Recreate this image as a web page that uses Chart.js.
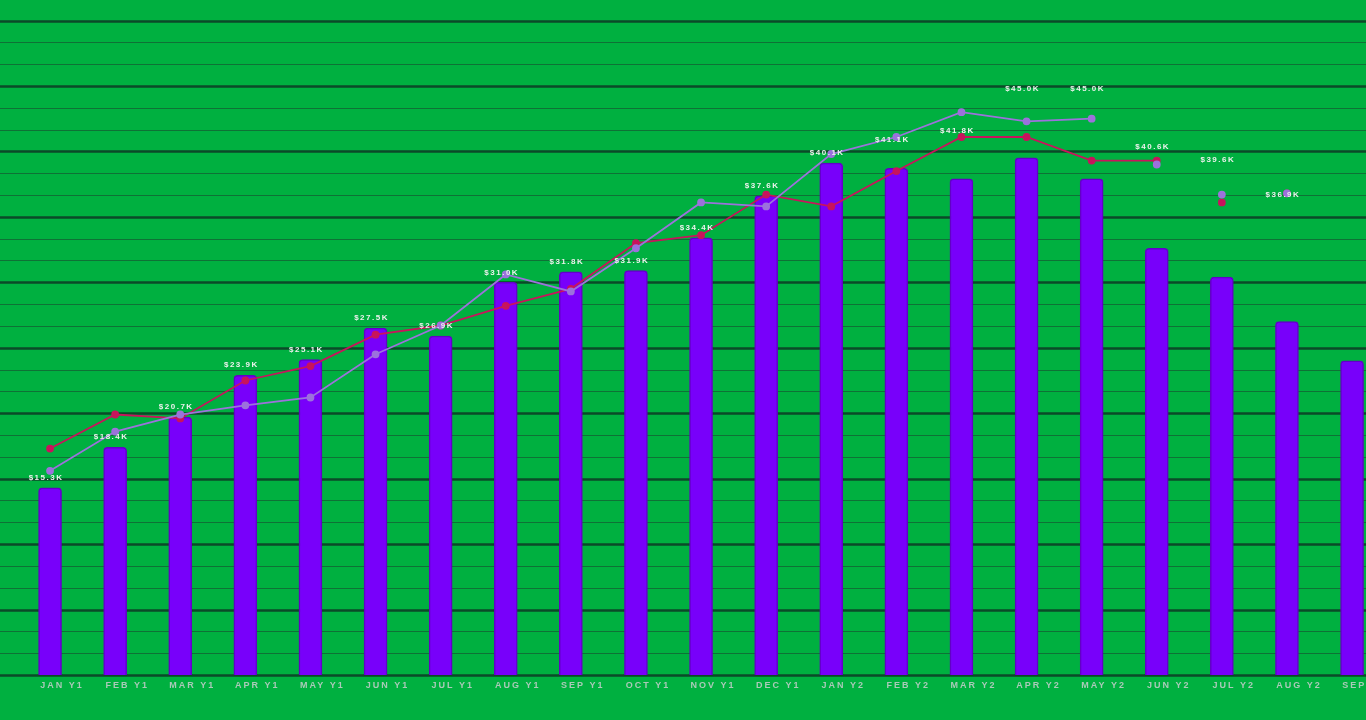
<!DOCTYPE html>
<html>
<head>
<meta charset="utf-8">
<title>Monthly revenue</title>
<script src="https://cdn.jsdelivr.net/npm/chart.js@4.4.1/dist/chart.umd.min.js"></script>
<style>
  html, body { margin: 0; padding: 0; background: #00b040; overflow: hidden; }
  #wrap { position: relative; width: 1400px; height: 720px; }
</style>
</head>
<body>
<div id="wrap"><canvas id="revenue-chart"></canvas></div>
<script>
// categories
const months = ['JAN Y1', 'FEB Y1', 'MAR Y1', 'APR Y1', 'MAY Y1', 'JUN Y1', 'JUL Y1', 'AUG Y1', 'SEP Y1',
    'OCT Y1', 'NOV Y1', 'DEC Y1', 'JAN Y2', 'FEB Y2', 'MAR Y2', 'APR Y2', 'MAY Y2', 'JUN Y2', 'JUL Y2',
    'AUG Y2', 'SEP Y2'];

// bar heights as drawn (thousands)
const barValues = [15.3, 18.4, 20.7, 23.9, 25.1, 27.5, 26.9, 31.0, 31.8, 31.9, 34.4, 37.6, 40.1,
    39.7, 38.9, 40.5, 38.9, 33.6, 31.4, 28.0, 25.0];

// value labels shown above the bars (thousands)
const labelValues = [15.3, 18.4, 20.7, 23.9, 25.1, 27.5, 26.9, 31.0, 31.8, 31.9, 34.4, 37.6, 40.1,
    41.1, 41.8, 45.0, 45.0, 40.6, 39.6, 36.9, null];

// the two line series (thousands)
const redLine = [18.3, 20.9, 20.6, 23.5, 24.6, 27.0, 27.7, 29.2, 30.5, 34.0, 34.6, 37.7, 36.8,
    39.5, 42.1, 42.1, 40.3, 40.3, 37.1, 37.8, null];
const lavenderLine = [16.6, 19.6, 20.9, 21.6, 22.2, 25.5, 27.7, 31.6, 30.3, 33.6, 37.1, 36.8, 40.8,
    42.1, 44.0, 43.3, 43.5, 40.0, 37.7, 37.8, null];

const redColor = '#c8145c';
const lavenderColor = '#9c72dc';

// horizontal rules run across the whole page, not just the plot area
const wideGrid = {
    id: 'wideGrid',
    beforeDatasetsDraw(chart) {
        const { ctx, scales, width } = chart;
        ctx.save();
        scales.y.ticks.forEach((t, i) => {
            const y = Math.round(scales.y.getPixelForValue(t.value)) + 0.5;
            const major = i % 3 === 0;
            ctx.strokeStyle = major ? '#0b4a28' : '#0e7236';
            ctx.lineWidth = major ? 2.5 : 1.2;
            ctx.beginPath();
            ctx.moveTo(0, y);
            ctx.lineTo(width, y);
            ctx.stroke();
        });
        ctx.restore();
    }
};

// draw the $xx.xK labels over the chart
const valueLabels = {
    id: 'valueLabels',
    afterDatasetsDraw(chart) {
        const { ctx, scales } = chart;
        ctx.save();
        ctx.letterSpacing = '1.5px';
        ctx.font = 'bold 8px "Liberation Sans", Arial, sans-serif';
        ctx.fillStyle = '#eef2ee';
        ctx.textAlign = 'center';
        ctx.textBaseline = 'middle';
        labelValues.forEach((v, i) => {
            if (v === null) return;
            const x = scales.x.getPixelForValue(i) - 4;
            const y = scales.y.getPixelForValue(v) - 10;
            ctx.fillText('$' + v.toFixed(1) + 'K', x, y);
        });
        ctx.restore();
    }
};

// letter spacing for the axis labels
const spacedText = {
    id: 'spacedText',
    beforeDraw(chart) {
        chart.ctx.letterSpacing = '2px';
    }
};

const ctx = document.getElementById('revenue-chart').getContext('2d');
new Chart(ctx, {
    type: 'bar',
    data: {
        labels: months,
        datasets: [
            {
                type: 'line',
                label: 'Target',
                data: redLine,
                borderColor: redColor,
                backgroundColor: redColor,
                borderWidth: 1.8,
                pointRadius: 3,
                pointHoverRadius: 3,
                tension: 0,
                segment: {
                    borderColor: c => c.p1DataIndex > 17 ? 'transparent' : redColor
                },
                order: 1
            },
            {
                type: 'line',
                label: 'Forecast',
                data: lavenderLine,
                borderColor: lavenderColor,
                backgroundColor: lavenderColor,
                borderWidth: 1.8,
                pointRadius: 3,
                pointHoverRadius: 3,
                tension: 0,
                segment: {
                    borderColor: c => c.p1DataIndex > 16 ? 'transparent' : lavenderColor
                },
                order: 0
            },
            {
                label: 'Revenue',
                data: barValues,
                backgroundColor: '#7800fa',
                borderColor: '#6200c8',
                borderWidth: 1.5,
                borderRadius: 4,
                borderSkipped: 'bottom',
                barThickness: 23,
                order: 2
            }
        ]
    },
    options: {
        responsive: true,
        maintainAspectRatio: false,
        animation: false,
        layout: {
            padding: { left: 17.5, right: 15.4, top: 20.5, bottom: 24.2 }
        },
        plugins: {
            legend: { display: false },
            tooltip: { enabled: false }
        },
        scales: {
            x: {
                grid: { display: false, drawTicks: false },
                border: { display: false },
                ticks: {
                    color: 'rgba(200, 206, 206, 0.85)',
                    font: { family: '"Liberation Sans", Arial, sans-serif', size: 9, weight: 'bold' },
                    padding: 5,
                    labelOffset: 12,
                    maxRotation: 0,
                    autoSkip: false
                }
            },
            y: {
                min: 1,
                max: 51,
                afterBuildTicks: scale => {
                    const t = [];
                    for (let k = 0; k <= 30; k++) t.push({ value: 1 + k * 5 / 3 });
                    scale.ticks = t;
                },
                grid: { display: false, drawTicks: false },
                border: { display: false },
                ticks: { display: false }
            }
        }
    },
    plugins: [spacedText, wideGrid, valueLabels]
});
</script>
</body>
</html>
